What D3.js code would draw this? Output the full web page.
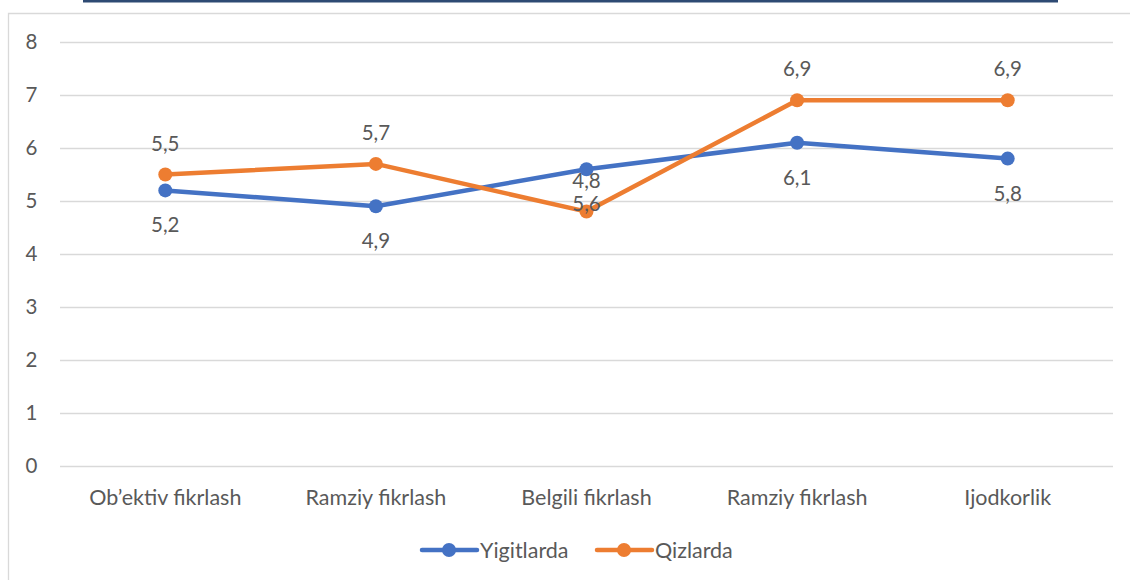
<!DOCTYPE html>
<html>
<head>
<meta charset="utf-8">
<script src="https://cdn.jsdelivr.net/npm/d3@7"></script>
<style>
body{margin:0;background:#fff}
svg{display:block;font-family:Lato,"Open Sans",sans-serif}
</style>
</head>
<body>
<div id="chart"></div>
<script>
const categories = ["Ob\u2019ektiv fikrlash","Ramziy fikrlash","Belgili fikrlash","Ramziy fikrlash","Ijodkorlik"]
const yigitlarda = [5.2,4.9,5.6,6.1,5.8]
const qizlarda = [5.5,5.7,4.8,6.9,6.9]
const yTicks = [0,1,2,3,4,5,6,7,8]
const seriesNames = ["Yigitlarda","Qizlarda"]

const width = 1130
const height = 580
const margin = {top:42, left:60, right:17, bottom:114}
const innerWidth = width - margin.left - margin.right
const innerHeight = height - margin.top - margin.bottom
const colors = ["#4472C4","#ED7D31"]
const textColor = "#595959"
const font = 'Lato,"Open Sans",sans-serif'

const svg = d3.select('#chart').append('svg')
  .attr('width',width).attr('height',height)

// frame pieces
svg.append('rect').attr('x',83).attr('y',0).attr('width',975).attr('height',2.5).attr('fill','#2E4A73')
svg.append('path').attr('d','M8.5,580 V13.5 H1130').attr('fill','none').attr('stroke','#d9d9d9').attr('stroke-width',1.3)

const g = svg.append('g').attr('transform',`translate(${margin.left},${margin.top})`)

const xScale = d3.scaleBand().domain(d3.range(categories.length)).range([0,innerWidth])
const yScale = d3.scaleLinear().domain([0,8]).range([innerHeight,0])

const yAxis = d3.axisLeft(yScale).tickValues(yTicks).tickSize(-innerWidth).tickFormat(d=>d)
const yAxisGroup = g.append('g').call(yAxis)
yAxisGroup.select('.domain').remove()
yAxisGroup.selectAll('line').attr('stroke','#d9d9d9').attr('stroke-width',1.3)
yAxisGroup.selectAll('text').attr('fill',textColor).attr('font-size',20.5).attr('x',-28.5).attr('text-anchor','middle')
  .attr('font-family',font)

const xAxis = d3.axisBottom(xScale).tickSize(0).tickFormat(i=>categories[i])
const xAxisGroup = g.append('g').attr('transform',`translate(0,${innerHeight})`).call(xAxis)
xAxisGroup.select('.domain').remove()
xAxisGroup.selectAll('text').attr('fill',textColor).attr('font-size',21.5).attr('dy',0).attr('y',38.5)
  .attr('font-family',font)

const cx = i => xScale(i) + xScale.bandwidth()/2
const line = d3.line().x((d,i)=>cx(i)).y(d=>yScale(d))

const series = [yigitlarda, qizlarda]
series.forEach((vals,s)=>{
  const sg = g.append('g')
  sg.append('path').datum(vals).attr('d',line).attr('fill','none')
    .attr('stroke',colors[s]).attr('stroke-width',4.5).attr('stroke-linejoin','round').attr('stroke-linecap','round')
  sg.selectAll('circle').data(vals).enter().append('circle')
    .attr('cx',(d,i)=>cx(i)).attr('cy',d=>yScale(d)).attr('r',7).attr('fill',colors[s])
})
series.forEach((vals,s)=>{
  g.append('g').selectAll('text').data(vals).enter().append('text')
    .attr('x',(d,i)=>cx(i)).attr('y',d=>yScale(d) + (s===0 ? 42 : -24))
    .attr('text-anchor','middle').attr('fill',textColor).attr('font-size',20.5)
    .text(d=>d.toFixed(1).replace('.',','))
})

// legend
const legend = svg.append('g').attr('transform','translate(0,550)')
const legendX = [422,597]
seriesNames.forEach((name,s)=>{
  const lg = legend.append('g').attr('transform',`translate(${legendX[s]},0)`)
  lg.append('line').attr('x1',0).attr('x2',55).attr('stroke',colors[s]).attr('stroke-width',4.5).attr('stroke-linecap','round')
  lg.append('circle').attr('cx',27).attr('r',7).attr('fill',colors[s])
  lg.append('text').attr('x',58).attr('y',7.5).attr('fill',textColor).attr('font-size',21.5).text(name)
})
</script>
</body>
</html>
